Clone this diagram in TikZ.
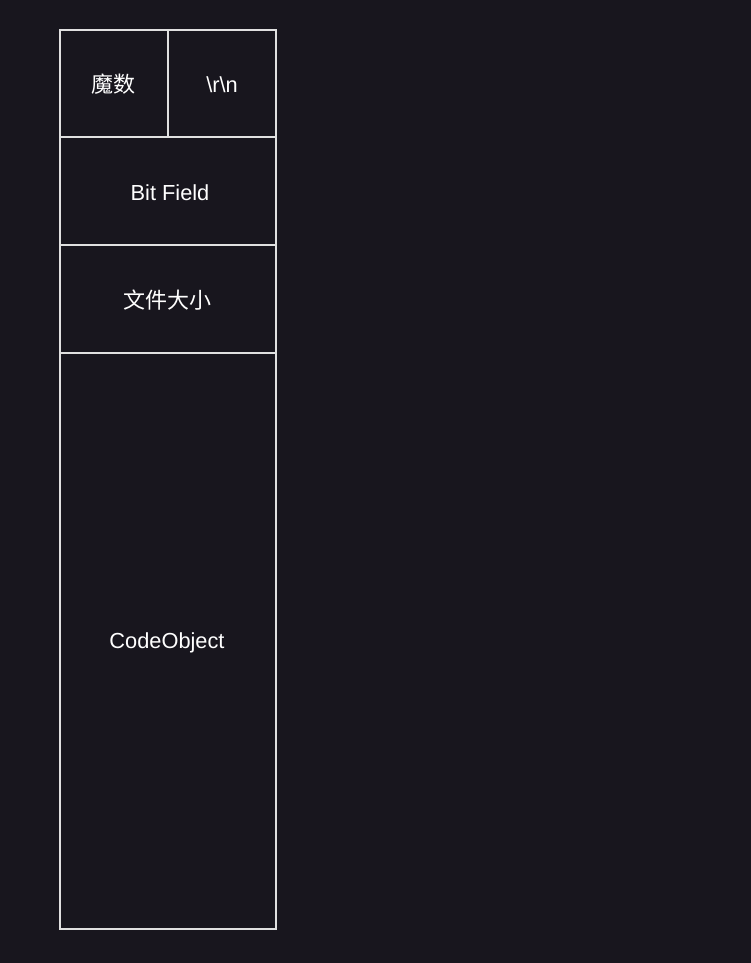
\documentclass[tikz,border=0pt]{standalone}
\usepackage{fontspec}
\setmainfont{Liberation Sans}
\newfontfamily\cjk{Noto Sans CJK SC}
\definecolor{bg}{HTML}{18161E}
\definecolor{ln}{HTML}{E0E0E0}
\begin{document}
\begin{tikzpicture}[x=1pt,y=-1pt,
  cell/.style={draw=ln,line width=1.5pt},
  lbl/.style={text=white,font=\fontsize{21.8}{26}\selectfont},
  clbl/.style={text=white,font=\cjk\fontsize{22}{26}\selectfont}]
\fill[bg] (0,0) rectangle (751,963);
\useasboundingbox (0,0) rectangle (751,963);
\draw[cell] (60,30) rectangle (168,137);
\draw[cell] (168,30) rectangle (276,137);
\draw[cell] (60,137) rectangle (276,245);
\draw[cell] (60,245) rectangle (276,353);
\draw[cell] (60,353) rectangle (276,929);
\node[clbl] (magic) at (113.5,84) {魔数};
\node[lbl] (crlf) at (222,85) {\textbackslash r\textbackslash n};
\node[lbl] (bits) at (170,193) {Bit Field};
\node[clbl] (size) at (167,300) {文件大小};
\node[lbl] (code) at (167,643) {CodeObject};
\end{tikzpicture}
\end{document}
